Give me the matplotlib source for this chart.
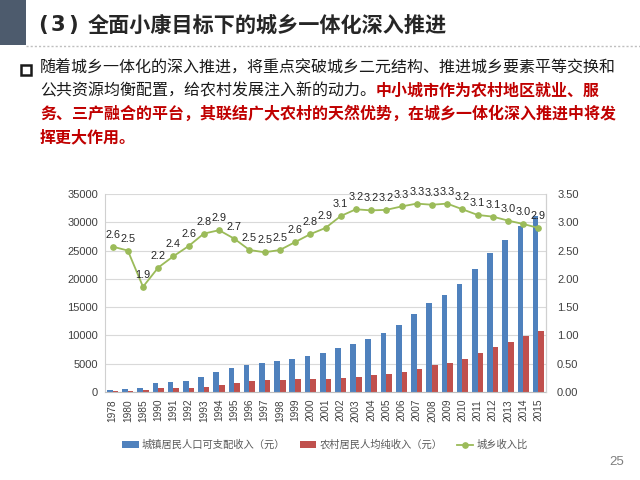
import matplotlib
matplotlib.use("Agg")
import matplotlib.pyplot as plt
from matplotlib.patches import Rectangle
from matplotlib.lines import Line2D
import numpy as np

plt.rcParams['font.family'] = ['Noto Sans CJK SC', 'DejaVu Sans']

years = ['1978', '1980', '1985', '1990', '1991', '1992', '1993', '1994', '1995', '1996',
         '1997', '1998', '1999', '2000', '2001', '2002', '2003', '2004', '2005', '2006',
         '2007', '2008', '2009', '2010', '2011', '2012', '2013', '2014', '2015']
urban = [343, 478, 739, 1510, 1701, 2027, 2577, 3496, 4283, 4839,
         5160, 5425, 5854, 6280, 6860, 7703, 8472, 9422, 10493, 11759,
         13786, 15781, 17175, 19109, 21810, 24565, 26955, 29381, 31195]
rural = [134, 191, 398, 686, 709, 784, 922, 1221, 1578, 1926,
         2090, 2162, 2210, 2253, 2366, 2476, 2622, 2936, 3255, 3587,
         4140, 4761, 5153, 5919, 6977, 7917, 8896, 9892, 10772]
ratio = [2.57, 2.50, 1.86, 2.20, 2.40, 2.58, 2.80, 2.86, 2.71, 2.51,
         2.47, 2.51, 2.65, 2.79, 2.90, 3.11, 3.23, 3.21, 3.22, 3.28,
         3.33, 3.31, 3.33, 3.23, 3.13, 3.10, 3.03, 2.97, 2.90]
legend_labels = ['城镇居民人口可支配收入（元）', '农村居民人均纯收入（元）', '城乡收入比']

title_num = ['(', '3', ')']
title = '全面小康目标下的城乡一体化深入推进'

W, H = 640, 480
fig = plt.figure(figsize=(6.4, 4.8), dpi=100)
fig.patch.set_facecolor('white')

def fx(px):
    return px / W

def fy(py):
    return 1 - py / H

# header block and separator
fig.patches.append(Rectangle((0, fy(45)), fx(26), 45 / H, transform=fig.transFigure,
                             facecolor='#4D5B6D', edgecolor='none'))
fig.lines.append(Line2D([fx(26), 1], [fy(45.5), fy(45.5)], transform=fig.transFigure,
                        color='#BFBFBF', lw=1.0, ls=(0, (1.5, 1.5))))
for ch, px in zip(title_num, [43, 58, 73]):
    fig.text(fx(px), fy(25), ch, fontsize=15.2, fontweight='bold', color='#262626',
             ha='center', va='center', family=['DejaVu Sans'])
fig.text(fx(88), fy(25), title, fontsize=15.2, fontweight='bold', color='#262626',
         ha='left', va='center')

# bullet box
fig.patches.append(Rectangle((fx(21), fy(75)), fx(10), 10 / H, transform=fig.transFigure,
                             facecolor='white', edgecolor='#1a1a1a', lw=1.8))

body_fs = 11.5
red = '#C00000'
renderer = fig.canvas.get_renderer()

def write_line(y, pieces):
    x = fx(40)
    for txt, color, weight in pieces:
        t = fig.text(x, fy(y), txt, fontsize=body_fs, color=color, fontweight=weight,
                     ha='left', va='center')
        bb = t.get_window_extent(renderer)
        x = bb.x1 / fig.bbox.width

write_line(68, [('随着城乡一体化的深入推进，将重点突破城乡二元结构、推进城乡要素平等交换和', '#1a1a1a', 'normal')])
write_line(91, [('公共资源均衡配置，给农村发展注入新的动力。', '#1a1a1a', 'normal'),
                ('中小城市作为农村地区就业、服', red, 'bold')])
write_line(114, [('务、三产融合的平台，其联结广大农村的天然优势，在城乡一体化深入推进中将发', red, 'bold')])
write_line(137, [('挥更大作用。', red, 'bold')])

# chart
ax = fig.add_axes([fx(105), fy(392), fx(546) - fx(105), (392 - 194) / H])
x = np.arange(len(years))
bw = 0.37
b1 = ax.bar(x - bw / 2, urban, width=bw, color='#4F81BD', label=legend_labels[0], zorder=2)
b2 = ax.bar(x + bw / 2, rural, width=bw, color='#C0504D', label=legend_labels[1], zorder=2)
ax.set_xlim(-0.5, len(years) - 0.5)
ax.set_ylim(0, 35000)
ax.set_yticks(np.arange(0, 35001, 5000))
ax.set_yticklabels([str(v) for v in range(0, 35001, 5000)], fontsize=8, color='#404040',
                   family='Liberation Sans')
ax.set_xticks(x)
ax.set_xticklabels(years, rotation=90, fontsize=7.3, color='#404040', family='Liberation Sans')
ax.tick_params(axis='both', length=0, pad=5)
ax.grid(axis='y', color='#D9D9D9', lw=0.8, zorder=0)
ax.set_axisbelow(True)
ax.spines['top'].set_visible(False)
ax.spines['left'].set_color('#D0D0D0')
ax.spines['right'].set_color('#D0D0D0')
ax.spines['bottom'].set_color('#BFBFBF')

ax2 = ax.twinx()
ln, = ax2.plot(x, ratio, color='#9BBB59', lw=1.3, marker='o', ms=3.8, label=legend_labels[2],
               zorder=3)
ax2.set_ylim(0, 3.5)
ax2.set_yticks(np.arange(0, 3.51, 0.5))
ax2.set_yticklabels([f'{v:.2f}' for v in np.arange(0, 3.51, 0.5)], fontsize=8, color='#404040',
                    family='Liberation Sans')
ax2.tick_params(axis='y', length=0, pad=8)
for s in ['top', 'left', 'bottom']:
    ax2.spines[s].set_visible(False)
ax2.spines['right'].set_color('#D0D0D0')
for xi, r in zip(x, ratio):
    ax2.annotate(f'{r:.1f}', (xi, r), xytext=(0, 5), textcoords='offset points',
                 ha='center', va='bottom', fontsize=7.8, color='#262626',
                 family='Liberation Sans')

leg = fig.legend(handles=[b1, b2, ln], labels=legend_labels, loc='center',
                 bbox_to_anchor=(fx(325), fy(445)), ncol=3, frameon=False,
                 fontsize=7.4, handlelength=1.6, handleheight=0.6, handletextpad=0.3,
                 columnspacing=1.4, labelcolor='#595959')

fig.text(fx(617), fy(462), '25', fontsize=9.5, color='#7F7F7F', ha='center', va='center',
         family='Liberation Sans')

fig.savefig('out.png', dpi=100)
